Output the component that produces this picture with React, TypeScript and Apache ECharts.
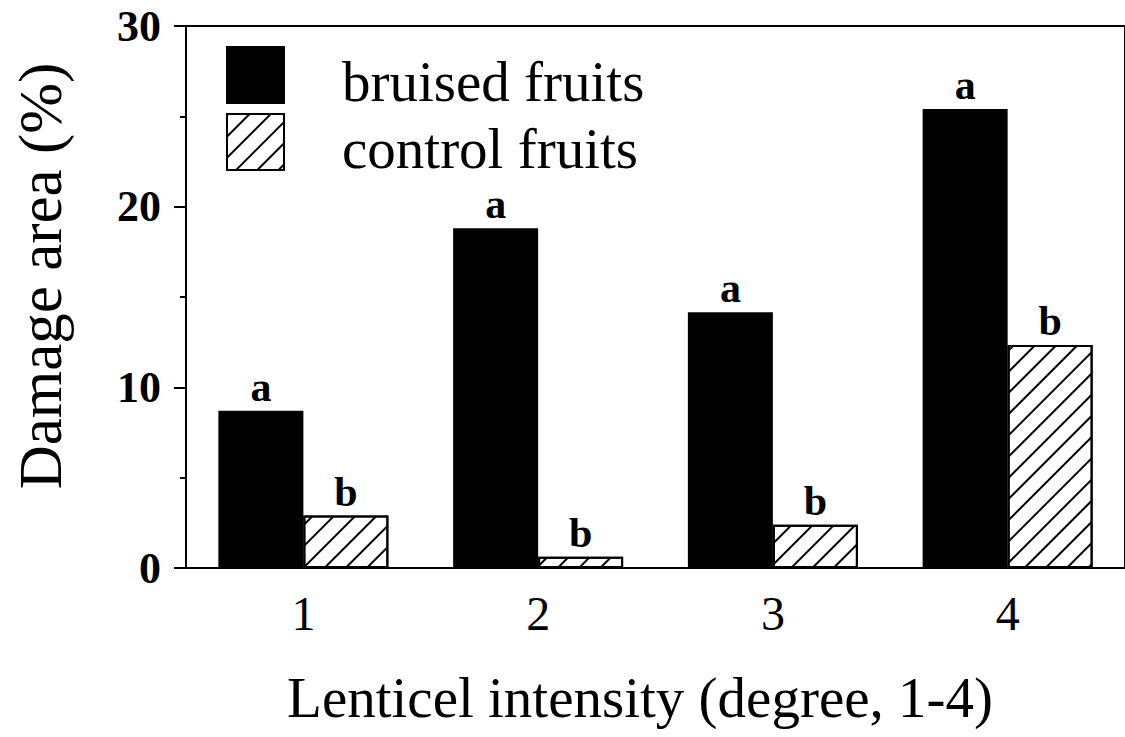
import React, { useEffect, useRef } from "react";
import * as echarts from "echarts";

const categories = ["1", "2", "3", "4"];
const bruisedValues = [8.7, 18.8, 14.15, 25.4];
const controlValues = [2.9, 0.62, 2.4, 12.35];
const bruisedLetters = ["a", "a", "a", "a"];
const controlLetters = ["b", "b", "b", "b"];
const yTicks = { min: 0, max: 30, interval: 10 };
const xTitle = "Lenticel intensity (degree, 1-4)";
const yTitle = "Damage area (%)";
const seriesNames = ["bruised fruits", "control fruits"];

const SERIF = "'Liberation Serif', 'DejaVu Serif', serif";

export default function App() {
  const ref = useRef<HTMLDivElement>(null);
  useEffect(() => {
    if (!ref.current) return;
    const chart = echarts.init(ref.current, undefined, { renderer: "svg" });
    const letterLabel = (letters: string[]) => ({
      show: true,
      position: "top",
      distance: 6,
      formatter: (p: any) => letters[p.dataIndex],
      fontFamily: SERIF,
      fontWeight: "bold",
      fontSize: 42,
      lineHeight: 36,
      color: "#000",
    });
    chart.setOption({
      animation: false,
      backgroundColor: "#fff",
      grid: {
        left: 186,
        right: 0,
        top: 22,
        bottom: 169,
        show: true,
        borderColor: "#000",
        borderWidth: 2,
        containLabel: false,
      },
      legend: {
        orient: "vertical",
        left: 226,
        top: 46,
        padding: 0,
        icon: "rect",
        itemWidth: 57,
        itemHeight: 56,
        itemGap: 3,
        data: seriesNames,
        formatter: (name: string) => "{t|" + name + "}{s|}",
        textStyle: {
          fontFamily: SERIF,
          fontSize: 57,
          color: "#000",
          padding: [0, 0, 0, 53],
          rich: {
            t: { fontFamily: SERIF, fontSize: 57, lineHeight: 57, color: "#000", verticalAlign: "bottom" },
            s: { fontSize: 1, lineHeight: 70, width: 1 },
          },
        },
      },
      xAxis: {
        type: "category",
        data: categories,
        axisLine: { show: true, lineStyle: { color: "#000", width: 2 } },
        axisTick: { show: false },
        axisLabel: { fontFamily: SERIF, fontSize: 48, color: "#000", margin: 21 },
        splitLine: { show: false },
      },
      yAxis: {
        type: "value",
        min: yTicks.min,
        max: yTicks.max,
        interval: yTicks.interval,
        axisLine: { show: true, lineStyle: { color: "#000", width: 2 } },
        axisTick: { show: true, length: 12, lineStyle: { color: "#000", width: 2 } },
        minorTick: { show: true, splitNumber: 2, length: 6, lineStyle: { color: "#000", width: 2 } },
        axisLabel: {
          fontFamily: SERIF,
          fontWeight: "bold",
          fontSize: 44,
          lineHeight: 38,
          padding: [14, 0, 0, 0],
          color: "#000",
          margin: 25,
        },
        splitLine: { show: false },
      },
      graphic: [
        {
          type: "text",
          x: 40,
          y: 276,
          rotation: Math.PI / 2,
          style: {
            text: yTitle,
            fontFamily: SERIF,
            fontSize: 61,
            fill: "#000",
            textAlign: "center",
            textVerticalAlign: "middle",
          },
        },
        {
          type: "text",
          x: 640,
          y: 697,
          style: {
            text: xTitle,
            fontFamily: SERIF,
            fontSize: 57,
            fill: "#000",
            textAlign: "center",
            textVerticalAlign: "middle",
          },
        },
      ],
      series: [
        {
          name: seriesNames[0],
          type: "bar",
          data: bruisedValues,
          barWidth: 85,
          barGap: "0%",
          itemStyle: { color: "#000", borderColor: "#000", borderWidth: 2 },
          label: letterLabel(bruisedLetters),
        },
        {
          name: seriesNames[1],
          type: "bar",
          data: controlValues,
          barWidth: 85,
          barGap: "0%",
          itemStyle: {
            color: "#fff",
            borderColor: "#000",
            borderWidth: 2,
            decal: {
              symbol: "rect",
              symbolSize: 1,
              color: "#000",
              dashArrayX: [1, 0],
              dashArrayY: [2, 13],
              rotation: -Math.PI / 4,
            },
          },
          label: letterLabel(controlLetters),
        },
      ],
    });
    return () => chart.dispose();
  }, []);
  return <div ref={ref} style={{ width: 1125, height: 737, position: "absolute", left: 0, top: 0 }} />;
}
